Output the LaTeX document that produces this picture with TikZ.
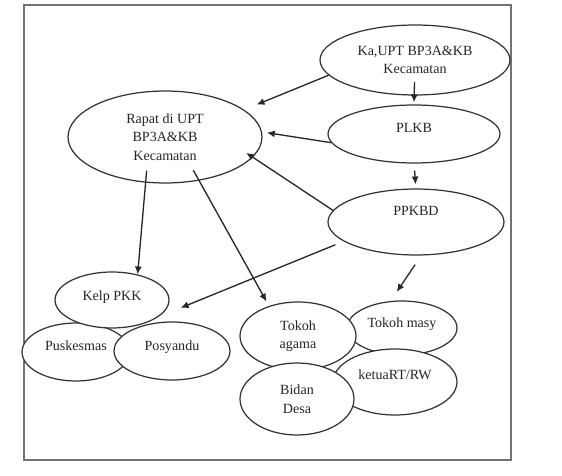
\documentclass[tikz,border=0pt]{standalone}
\usepackage{fontspec}
\setmainfont{Liberation Serif}
\usepackage{tikz}
\usetikzlibrary{shapes.geometric,arrows.meta}

\begin{document}
\begin{tikzpicture}[x=0.02cm, y=-0.02cm, ->, >={Latex[length=4.5pt,width=4pt]}, draw=black!85, line width=0.75pt]
    \tikzstyle{bubble}=[ellipse, draw=black!80, fill=white, inner sep=0pt, align=center, text=black!85, line width=0.7pt, font=\fontsize{8}{10.5}\selectfont]
    \tikzstyle{frame}=[-, draw=black!55, line width=0.9pt]
    \useasboundingbox (0,0) rectangle (562,476);
    % Draw the frame
    \draw[frame] (24,5) rectangle (511,460);
    % Draw the upper nodes
    \node[bubble, minimum width=3.8cm, minimum height=1.4cm] (ka) at (415,60) {Ka,UPT BP3A\&KB\\Kecamatan};
    \node[bubble, minimum width=3.88cm, minimum height=1.84cm] (rapat) at (165,137) {Rapat di UPT\\BP3A\&KB\\Kecamatan};
    \node[bubble, minimum width=3.44cm, minimum height=1.16cm, text depth=6.8pt] (plkb) at (414,134) {PLKB};
    \node[bubble, minimum width=3.52cm, minimum height=1.32cm, text depth=12.5pt] (ppkbd) at (416,222) {PPKBD};
    % Draw the left group
    \node[bubble, minimum width=2.16cm, minimum height=1.16cm, text depth=6.8pt] (pusk) at (76,352) {Puskesmas};
    \node[bubble, minimum width=2.32cm, minimum height=1.16cm, text depth=5.7pt] (posy) at (172,351) {Posyandu};
    \node[bubble, minimum width=2.28cm, minimum height=1.12cm, text depth=4.6pt] (kelp) at (112,300) {Kelp PKK};
    % Draw the right group
    \node[bubble, minimum width=2.2cm, minimum height=1.08cm, text depth=5.7pt] (masy) at (402,328) {Tokoh masy};
    \node[bubble, minimum width=2.48cm, minimum height=1.32cm, text depth=8pt] (ketua) at (395,382) {ketuaRT/RW};
    \node[bubble, minimum width=2.32cm, minimum height=1.36cm] (agama) at (298,336) {Tokoh\\agama};
    \node[bubble, minimum width=2.28cm, minimum height=1.44cm] (bidan) at (297,399) {Bidan\\Desa};
    % connect nodes
    \foreach \from/\to/\s/\e in {ka.190/rapat.19/0cm/0.27cm,
                                 ka.center/plkb.north/0.44cm/0.04cm,
                                 plkb.186/rapat.3/0cm/0.1cm,
                                 plkb.south/ppkbd.north/0.14cm/0.08cm,
                                 ppkbd.172/rapat.-13/0cm/-0.16cm,
                                 rapat.247/kelp.45/-0.24cm/0cm,
                                 rapat.308/agama.134/-0.24cm/0.1cm,
                                 ppkbd.195/kelp.-20/0.18cm/0.48cm,
                                 ppkbd.279/masy.113/0.22cm/0.22cm}
        \draw[shorten <=\s, shorten >=\e] (\from) -- (\to);
\end{tikzpicture}
\end{document}
